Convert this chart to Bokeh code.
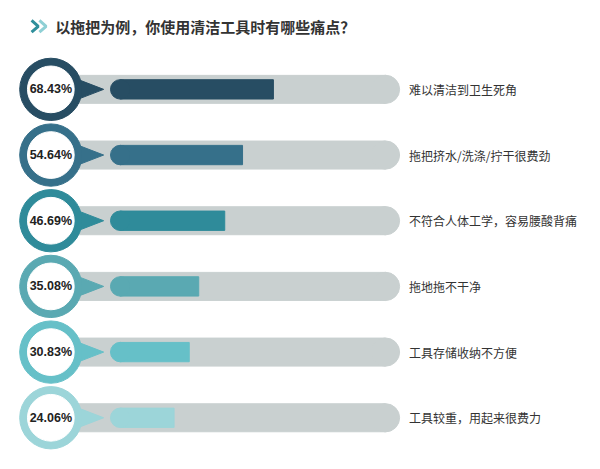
from bokeh.plotting import figure
from bokeh.models import Range1d, ColumnDataSource
from bokeh.embed import file_html
from bokeh.resources import INLINE
from bokeh.core.properties import value

# ---- data ----
categories = ["难以清洁到卫生死角", "拖把挤水/洗涤/拧干很费劲", "不符合人体工学，容易腰酸背痛",
              "拖地拖不干净", "工具存储收纳不方便", "工具较重，用起来很费力"]
values = [68.43, 54.64, 46.69, 35.08, 30.83, 24.06]
labels = ["68.43%", "54.64%", "46.69%", "35.08%", "30.83%", "24.06%"]
colors = ["#274d63", "#36708a", "#2f8b9a", "#5aa9b2", "#66c0c8", "#9cd5d9"]
title_text = "以拖把为例，你使用清洁工具时有哪些痛点？"

# ---- layout constants ----
W, H = 584, 453
CIRCLE_X = -31.0
TRACK_END = 118.5
LABEL_X = 129.0
TRACK_COLOR = "#c9d0d0"
FONT = "Noto Sans CJK SC"
S = W / 600.0

rows = list(range(len(values)))

p = figure(width=W, height=H, output_backend="svg", toolbar_location=None,
           x_range=Range1d(-53.48, 207.4), y_range=Range1d(5.544, -1.353),
           min_border=0, outline_line_color=None, background_fill_color="white",
           border_fill_color="white")
p.axis.visible = False
p.grid.visible = False

src = ColumnDataSource(dict(y=rows, v=values, lab=labels, cat=categories, col=colors,
                            cx=[CIRCLE_X] * len(rows), te=[TRACK_END] * len(rows),
                            z=[0] * len(rows), lx=[LABEL_X] * len(rows)))

# grey track with rounded right end
p.hbar(y="y", left="cx", right="te", height=29 / 68, color=TRACK_COLOR, source=src)
p.scatter(x="te", y="y", size=29 * S, marker="circle", color=TRACK_COLOR, source=src)

# value bars with rounded left end
p.hbar(y="y", left="z", right="v", height=20 / 68, color="col", source=src)
p.scatter(x="z", y="y", size=20 * S, marker="circle", color="col", source=src)

# pointer triangles
xs = [[-19.6, -19.6, -7.4] for _ in rows]
ys = [[r - 0.16, r + 0.16, r] for r in rows]
p.patches(xs, ys, color=colors)

# rings
p.scatter(x="cx", y="y", size=64 * S, marker="circle", color="col", source=src)
p.scatter(x="cx", y="y", size=48 * S, marker="circle", color="white", source=src)

p.text(x="cx", y="y", text="lab", source=src, text_align="center", text_baseline="middle",
       text_font=value("Liberation Sans"), text_font_style="bold", text_font_size="12.5px",
       text_color="#222222")

p.text(x="lx", y="y", text="cat", source=src, text_align="left", text_baseline="middle",
       text_font=value(FONT), text_font_size="12px", text_color="#333333")

# title chevrons
ty = -0.96
p.multi_line(xs=[[-39.6, -36.6, -39.6], [-36.1, -33.1, -36.1]],
             ys=[[ty - 0.09, ty, ty + 0.09], [ty - 0.09, ty, ty + 0.09]],
             line_color=["#2f8f9b", "#8fd0d5"], line_width=3)
p.text(x=[-29.0], y=[ty], text=[title_text], text_align="left", text_baseline="middle",
       text_font=value(FONT), text_font_style="bold", text_font_size="15px",
       text_color="#333333")

open("out.html", "w").write(file_html(p, INLINE))
